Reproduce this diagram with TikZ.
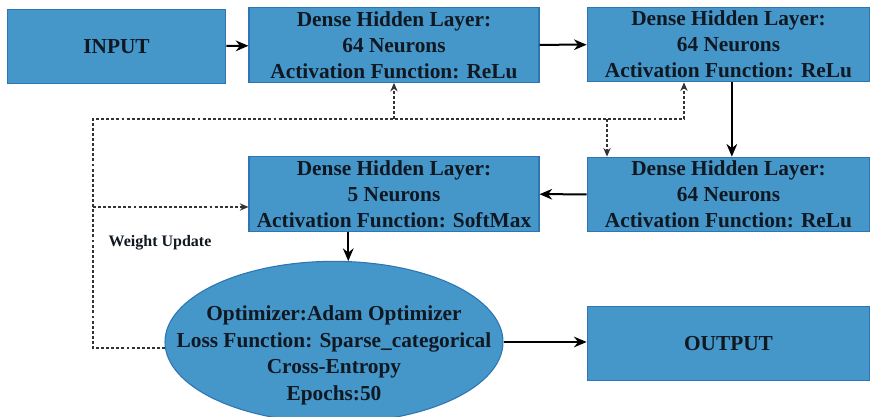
\documentclass[tikz,border=0pt]{standalone}
\usepackage{fontspec}
\setmainfont{Liberation Serif}
\usetikzlibrary{arrows.meta,shapes.geometric}
\definecolor{boxblue}{RGB}{69,150,201}
\definecolor{edgeblue}{RGB}{46,117,182}
\definecolor{inkdark}{RGB}{16,24,34}
\begin{document}
\begin{tikzpicture}[x=0.75pt, y=-0.75pt, >={Stealth[length=9.5pt,width=8pt]},
  layer/.style={draw=edgeblue, fill=boxblue, line width=0.8pt, rectangle, minimum width=217.5pt, minimum height=56pt, align=center, text=inkdark, font=\fontsize{16}{19.5}\selectfont\bfseries, inner sep=0pt},
  txt/.style={align=center, text=inkdark, font=\fontsize{16}{19.8}\selectfont\bfseries},
  flow/.style={->, line width=1.5pt},
  upd/.style={line width=0.9pt, draw=black!80, dash pattern=on 2.2pt off 1.6pt, >={Stealth[length=6.5pt,width=5.5pt]}}]
\useasboundingbox (0,0) rectangle (872,417);

% Input and first layers
\node[layer, minimum width=164pt] (in) at (116.5,46.5) {INPUT};
\node[layer] (l1) at (394,45) {Dense Hidden Layer:\\64 Neurons\\Activation Function: ReLu};
\node[layer, minimum width=212pt] (l2) at (728.5,44.5) {Dense Hidden Layer:\\64 Neurons\\Activation Function: ReLu};
\node[layer, minimum width=212pt] (l3) at (728.5,194.5) {Dense Hidden Layer:\\64 Neurons\\Activation Function: ReLu};
\node[layer] (l4) at (394,194) {Dense Hidden Layer:\\5 Neurons\\Activation Function: SoftMax};

% Optimizer and output
\node[draw=edgeblue, fill=boxblue, line width=0.8pt, ellipse, minimum width=253.5pt, minimum height=121pt,
  label={[txt, yshift=-10pt]center:{Optimizer:Adam Optimizer\\Loss Function: Sparse\_categorical\\Cross-Entropy\\Epochs:50}}] (opt) at (334,342) {};
\node[layer, minimum width=212pt] (out) at (728.5,343.5) {OUTPUT};

% Forward connections
\draw[flow] (in) -- (l1);
\draw[flow] (l1) -- (l2);
\draw[flow] ([xshift=2.5pt]l2.south) -- ([xshift=2.5pt]l3.north);
\draw[flow] (l3) -- (l4);
\draw[flow] (l4.south -| opt.80) -- (opt.80);
\draw[flow] (opt.east) -- (opt.east -| out.west);

% Weight update loop
\coordinate (fbl) at (93,119);
\coordinate (fbr) at (684,119);
\coordinate (fbd) at (607,119);
\coordinate (fbm) at (93,207);
\draw[upd, ->] (opt.182) -| (fbl) -- (fbr) -- (fbr |- l2.south);
\draw[upd, ->] (l1.south |- fbl) -- (l1.south);
\draw[upd, ->] (fbd) -- (fbd |- l3.north);
\draw[upd, ->] (fbm) -- (fbm -| l4.west);
\node[txt, font=\fontsize{12}{14}\selectfont\bfseries, anchor=west] (wu) at (104,243) {Weight Update};
\end{tikzpicture}
\end{document}
